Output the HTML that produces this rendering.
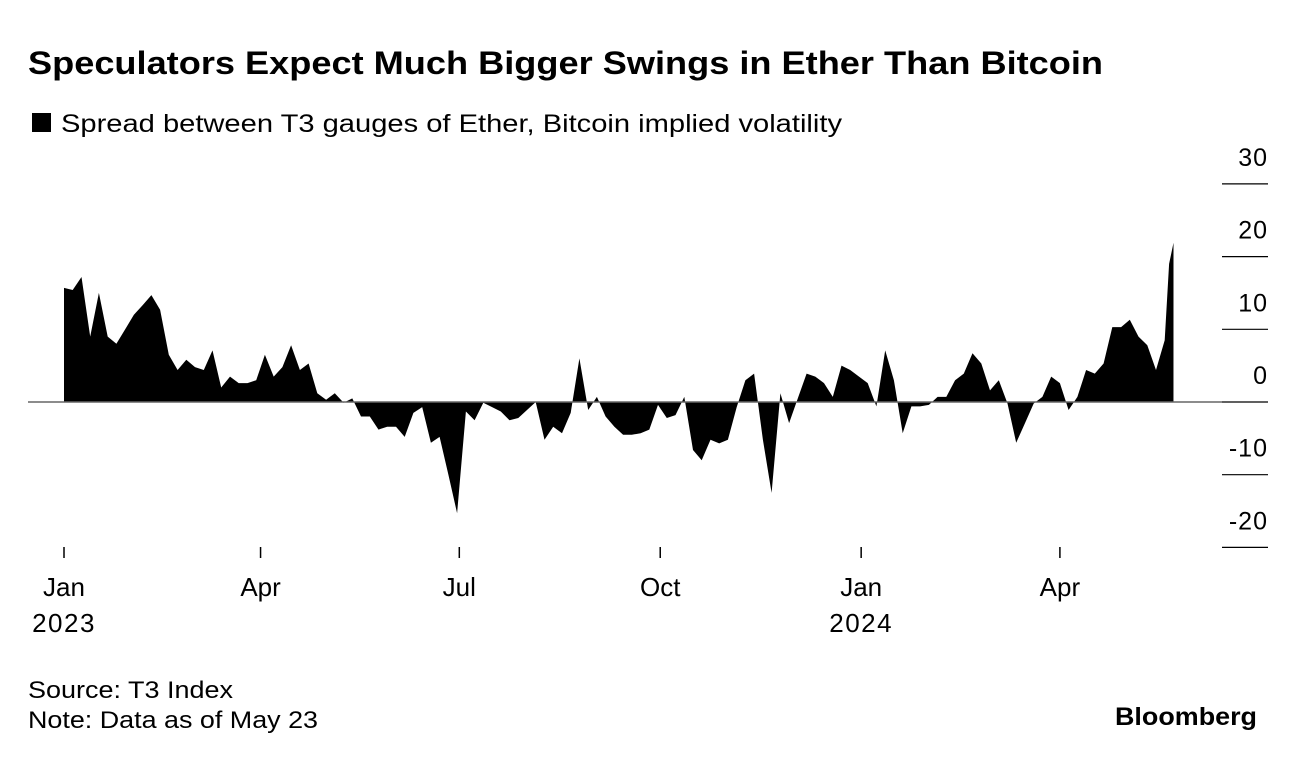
<!DOCTYPE html>
<html><head><meta charset="utf-8"><style>
body{margin:0;background:#fff;width:1296px;height:760px;overflow:hidden;font-family:"Liberation Sans",Arial,sans-serif;color:#000}
</style></head><body>
<svg width="1296" height="760" font-family="Liberation Sans, Arial, sans-serif">
<text x="28" y="74" font-size="32" font-weight="bold" textLength="1075" lengthAdjust="spacingAndGlyphs">Speculators Expect Much Bigger Swings in Ether Than Bitcoin</text>
<rect x="32" y="113" width="19" height="19" fill="#000"/>
<text x="61" y="132" font-size="25" textLength="781" lengthAdjust="spacingAndGlyphs">Spread between T3 gauges of Ether, Bitcoin implied volatility</text>
<g id="yaxis"></g>
<g id="xaxis"></g>
<path id="area" fill="#000"/>
<line id="zero" stroke="#666" stroke-width="1.5"/>
<text x="28" y="698" font-size="24" textLength="205" lengthAdjust="spacingAndGlyphs">Source: T3 Index</text>
<text x="28" y="728" font-size="24" textLength="290" lengthAdjust="spacingAndGlyphs">Note: Data as of May 23</text>
<text x="1115" y="725" font-size="25" font-weight="bold" textLength="142" lengthAdjust="spacingAndGlyphs">Bloomberg</text>
</svg>
<script>
const days=[0,4,8,12,16,20,24,28,32,36,40,44,48,52,56,60,64,68,72,76,80,84,88,92,96,100,104,108,112,116,120,124,128,132,136,140,144,148,152,156,160,164,168,172,176,180,184,188,192,196,200,204,208,212,216,220,224,228,232,236,240,244,248,252,256,260,264,268,272,276,280,284,288,292,296,300,304,308,312,316,320,324,328,332,336,340,344,348,352,356,360,364,368,372,376,380,384,388,392,396,400,404,408,412,416,420,424,428,432,436,440,444,448,452,456,460,464,468,472,476,480,484,488,492,496,500,504,506,508];
const values=[15.7,15.4,17.2,9,15,9,8,10,12,13.3,14.7,12.7,6.5,4.4,5.8,4.8,4.4,7.1,2,3.5,2.6,2.6,3,6.5,3.5,4.8,7.8,4.4,5.3,1.2,0.3,1.2,-0.1,0.5,-2,-2,-3.8,-3.4,-3.4,-4.8,-1.5,-0.7,-5.6,-4.8,-10,-15.3,-1.3,-2.5,-0.1,-0.7,-1.3,-2.5,-2.2,-1.1,0,-5.2,-3.4,-4.3,-1.5,6,-1.1,0.7,-2,-3.4,-4.5,-4.5,-4.3,-3.8,-0.4,-2.2,-1.8,0.7,-6.6,-8,-5.2,-5.7,-5.2,-0.7,3,3.9,-5.2,-12.5,1.2,-2.9,0.5,3.9,3.5,2.6,0.7,5,4.4,3.5,2.6,-0.6,7.1,3,-4.3,-0.6,-0.6,-0.4,0.7,0.7,3,3.9,6.7,5.3,1.6,3,-0.2,-5.6,-2.9,-0.2,0.7,3.5,2.6,-1.1,0.7,4.4,3.9,5.3,10.3,10.3,11.3,9,7.8,4.4,8.5,19,21.9];
const yTicks=[30,20,10,0,-10,-20];
const xTickDays=[0,90,181,273,365,456];
const xTickLabels=["Jan","Apr","Jul","Oct","Jan","Apr"];
const xYearLabels=["2023","","","","2024",""];
const X=d=>64+d*2.184, Y=v=>402-v*7.27;
const NS="http://www.w3.org/2000/svg";
const ya=document.getElementById('yaxis'), xa=document.getElementById('xaxis');
yTicks.forEach(t=>{
 const l=document.createElementNS(NS,'line');
 l.setAttribute('x1',1222);l.setAttribute('x2',1268);l.setAttribute('y1',Y(t));l.setAttribute('y2',Y(t));l.setAttribute('stroke','#000');l.setAttribute('stroke-width','1.2');
 
 
 ya.appendChild(l);
 const tx=document.createElementNS(NS,'text');
 tx.setAttribute('x',1268);tx.setAttribute('y',Y(t)-18);tx.setAttribute('text-anchor','end');tx.setAttribute('font-size','25');tx.setAttribute('letter-spacing','1');tx.textContent=t;
 
 
 ya.appendChild(tx);
});
xTickDays.forEach((d,i)=>{
 const l=document.createElementNS(NS,'line');
 l.setAttribute('x1',X(d));l.setAttribute('x2',X(d));l.setAttribute('y1',547);l.setAttribute('y2',558);l.setAttribute('stroke','#000');l.setAttribute('stroke-width','1.5');
 
 
 xa.appendChild(l);
 const tx=document.createElementNS(NS,'text');
 tx.setAttribute('x',X(d));tx.setAttribute('y',596);tx.setAttribute('text-anchor','middle');tx.setAttribute('font-size','26');tx.textContent=xTickLabels[i];
 
 
 xa.appendChild(tx);
 if(xYearLabels[i]){
  const ty=document.createElementNS(NS,'text');
  ty.setAttribute('x',X(d));ty.setAttribute('y',632);ty.setAttribute('text-anchor','middle');ty.setAttribute('font-size','26');ty.setAttribute('letter-spacing','1.5');ty.textContent=xYearLabels[i];
  
  
  xa.appendChild(ty);
 }
});
let p='M'+X(days[0])+','+Y(0);
days.forEach((d,i)=>{p+=' L'+X(d).toFixed(1)+','+Y(values[i]).toFixed(1);});
p+=' L'+X(days[days.length-1])+','+Y(0)+' Z';
document.getElementById('area').setAttribute('d',p);
const z=document.getElementById('zero');
z.setAttribute('x1',28);z.setAttribute('x2',1222);z.setAttribute('y1',Y(0));z.setAttribute('y2',Y(0));
</script>
</body></html>
